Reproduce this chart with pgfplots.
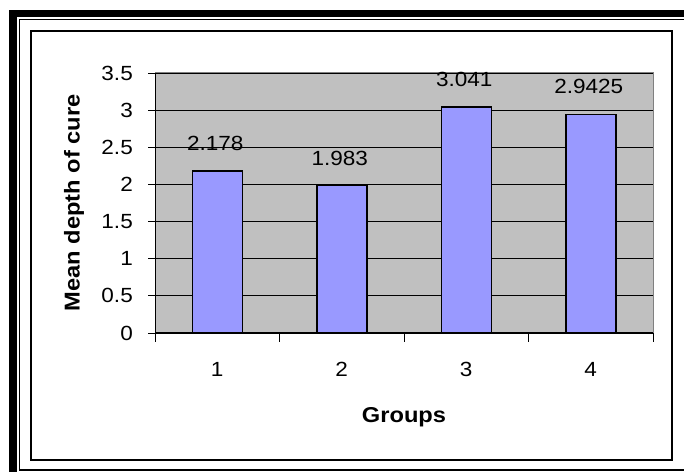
\documentclass[border=0pt]{standalone}
\usepackage{fontspec}
\setmainfont{Liberation Sans}[FakeStretch=1.1]
\usepackage{pgfplots}
\pgfplotsset{compat=1.18}
\definecolor{plotgray}{HTML}{C0C0C0}
\definecolor{barblue}{HTML}{9999FF}
\definecolor{bordergray}{HTML}{808080}
\pgfplotstableread{
grp val label
1 2.178 2.178
2 1.983 1.983
3 3.041 3.041
4 2.9425 2.9425
}\groupdata
\begin{document}
\begin{tikzpicture}[x=1bp,y=1bp]
\useasboundingbox (0,0) rectangle (684,472);
\clip (0,0) rectangle (684,472);
% outer frame
\draw[line width=7.5bp] (13,-40) -- (13,458.5) -- (720,458.5);
\draw[line width=1.5bp] (19.5,2) rectangle (685.5,452.5);
\draw[line width=2bp] (31,12) rectangle (672,441);
\begin{axis}[
  at={(155bp,139bp)}, anchor=south west,
  scale only axis, width=498bp, height=260bp,
  clip=false,
  xmin=0.5, xmax=4.5, ymin=0, ymax=3.5,
  xtick={1,2,3,4}, xticklabels={1,2,3,4},
  minor xtick={0.5,1.5,2.5,3.5,4.5},
  major x tick style={draw=none},
  minor x tick style={black, line width=0.8bp},
  minor tick length=9bp,
  ytick={0,0.5,1,1.5,2,2.5,3,3.5},
  yticklabels={0,0.5,1,1.5,2,2.5,3,3.5},
  ytick style={black, line width=0.8bp},
  tick align=outside, major tick length=7bp,
  xtick pos=bottom, ytick pos=left,
  ymajorgrids, major grid style={black, line width=0.75bp},
  axis background/.style={fill=plotgray},
  axis line style={bordergray, line width=1bp},
  tick label style={font=\fontsize{20.5bp}{24bp}\selectfont},
  xticklabel style={anchor=base, inner sep=0pt, yshift=-37bp},
  yticklabel style={anchor=east, inner sep=0pt, xshift=-15bp},
  xlabel={Groups}, ylabel={Mean depth of cure},
  label style={font=\bfseries\fontsize{21.5bp}{25bp}\selectfont},
  xlabel style={at={(axis description cs:0.5,-0.345)}, anchor=base, inner sep=0pt},
  ylabel style={at={(axis description cs:-0.1627,0.5)}, anchor=center, inner sep=0pt},
]
\addplot[ybar, bar width=50bp, fill=barblue, draw=black, line width=1.5bp,
  nodes near coords, point meta=explicit symbolic,
  nodes near coords style={anchor=base, inner sep=0pt, yshift=20.5bp, xshift=-2bp,
    font=\fontsize{20.5bp}{24bp}\selectfont, text=black}]
  table[x=grp, y=val, meta=label] {\groupdata};
\draw[black, line width=1bp] (rel axis cs:0,1) -- (rel axis cs:0,0) -- (rel axis cs:1,0);
\end{axis}
\end{tikzpicture}
\end{document}
